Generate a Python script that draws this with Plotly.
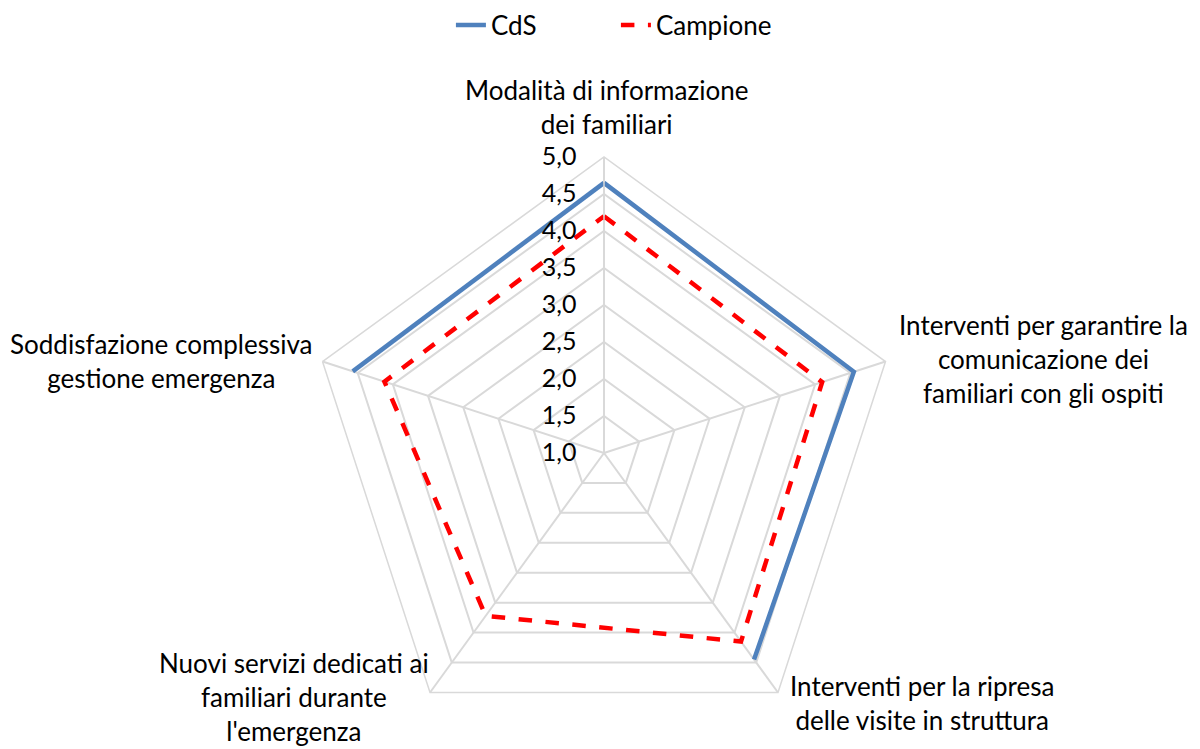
import plotly.graph_objects as go

categories = [
    "Modalità di informazione<br>dei familiari",
    "Interventi per garantire la<br>comunicazione dei<br>familiari con gli ospiti",
    "Interventi per la ripresa<br>delle visite in struttura",
    "Nuovi servizi dedicati ai<br>familiari durante<br>l'emergenza",
    "Soddisfazione complessiva<br>gestione emergenza",
]
cds = [4.65, 4.55, 4.45, None, 4.57]
campione = [4.2, 4.1, 4.15, 3.72, 4.12]
radial_ticks = [1.0, 1.5, 2.0, 2.5, 3.0, 3.5, 4.0, 4.5, 5.0]

# page has an 8px body margin; size the figure to fit inside the 1200x749 window
W, H = 1192, 741
FONT = "Lato"
GRID = "#d9d9d9"

theta_closed = categories + [categories[0]]

fig = go.Figure()
fig.add_trace(go.Scatterpolar(
    r=cds + [cds[0]], theta=theta_closed, mode="lines", name="CdS",
    line=dict(color="#4f81bd", width=4.5), connectgaps=False,
))
fig.add_trace(go.Scatterpolar(
    r=campione + [campione[0]], theta=theta_closed, mode="lines", name="Campione",
    line=dict(color="#ff0000", width=4.5, dash="dash"),
))

# polar geometry (figure pixels)
cx, cy, R = 596, 445, 296
y0 = max(0, (H - cy - R) / H)
y1 = (H - cy + R) / H
fig.update_layout(
    width=W, height=H,
    margin=dict(l=0, r=0, t=0, b=0, autoexpand=False),
    paper_bgcolor="white", plot_bgcolor="white",
    font=dict(family=FONT, size=26, color="#000000"),
    separators=",.",
    showlegend=True,
    legend=dict(orientation="h", x=0.51, xanchor="center", y=1 - 17 / H, yanchor="middle",
                font=dict(size=26), entrywidth=120, entrywidthmode="pixels"),
    polar=dict(
        domain=dict(x=[(cx - R) / W, (cx + R) / W], y=[y0, y1]),
        gridshape="linear",
        bgcolor="white",
        angularaxis=dict(
            type="category", rotation=90, direction="clockwise",
            categoryorder="array", categoryarray=categories,
            showticklabels=False, ticks="",
            showgrid=True, gridcolor=GRID, gridwidth=1.5,
            showline=True, linecolor=GRID, linewidth=1.5,
        ),
        radialaxis=dict(
            range=[1, 5], tickvals=radial_ticks, tickformat=".1f",
            angle=90, tickangle=90, side="counterclockwise",
            showgrid=True, gridcolor=GRID, gridwidth=1.5,
            showline=True, linecolor=GRID, linewidth=1.5,
            ticks="outside", ticklen=18, tickcolor="rgba(0,0,0,0)",
            tickfont=dict(size=25),
        ),
    ),
)

label_pos = [
    (598, 99),
    (1035, 351),
    (914, 695),
    (286, 689),
    (153, 353),
]
for text, (px, py) in zip(categories, label_pos):
    fig.add_annotation(
        text=text, x=px / W, y=1 - py / H, xref="paper", yref="paper",
        xanchor="center", yanchor="middle", align="center", showarrow=False,
        font=dict(size=26, family=FONT),
    )

fig.write_html("out.html")
